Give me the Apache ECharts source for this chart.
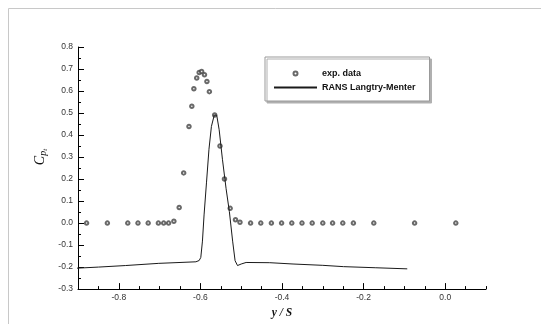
<!DOCTYPE html>
<html>
<head>
<meta charset="utf-8">
<script src="https://cdn.jsdelivr.net/npm/echarts@6/dist/echarts.min.js"></script>
<style>html,body{margin:0;padding:0;background:#fff}#c{width:541px;height:324px}</style>
</head>
<body>
<div id="c"></div>
<script>
// experimental data (y/S, Cp_t)
const expX = [-0.879,-0.828,-0.778,-0.753,-0.728,-0.703,-0.690,-0.678,-0.665,-0.652,-0.641,-0.628,-0.621,-0.616,-0.609,-0.603,-0.597,-0.590,-0.584,-0.578,-0.565,-0.552,-0.541,-0.527,-0.514,-0.503,-0.477,-0.452,-0.426,-0.401,-0.376,-0.351,-0.326,-0.300,-0.276,-0.251,-0.225,-0.175,-0.075,0.026];
const expY = [0.0,0.0,0.0,0.0,0.0,0.0,0.0,0.0,0.008,0.071,0.228,0.439,0.531,0.610,0.659,0.684,0.689,0.674,0.643,0.597,0.491,0.350,0.200,0.067,0.015,0.004,0.0,0.0,0.0,0.0,0.0,0.0,0.0,0.0,0.0,0.0,0.0,0.0,0.0,0.0];
// RANS Langtry-Menter curve
const ransX = [-0.904,-0.850,-0.784,-0.702,-0.650,-0.611,-0.603,-0.599,-0.595,-0.591,-0.585,-0.579,-0.573,-0.566,-0.560,-0.554,-0.546,-0.537,-0.529,-0.521,-0.515,-0.509,-0.500,-0.488,-0.430,-0.373,-0.300,-0.249,-0.170,-0.093];
const ransY = [-0.205,-0.200,-0.193,-0.183,-0.179,-0.176,-0.170,-0.156,-0.082,0.037,0.186,0.335,0.439,0.491,0.490,0.424,0.290,0.156,0.052,-0.082,-0.171,-0.193,-0.186,-0.179,-0.180,-0.186,-0.192,-0.198,-0.203,-0.208];
const xMajor = [-0.8,-0.6,-0.4,-0.2,0.0];

const chart = echarts.init(document.getElementById('c'), null, {renderer:'canvas'});
const lab = {fontFamily:'Liberation Sans, Arial, sans-serif', fontSize:8.5, color:'#333'};
chart.setOption({
  animation:false,
  backgroundColor:'#fff',
  grid:{left:78,right:55,top:47,bottom:31},
  graphic:[
    {type:'rect', shape:{x:8.5,y:8.5,width:600,height:400}, style:{fill:'none',stroke:'#c8c8c8',lineWidth:1}, silent:true},
    {type:'text', x:40, y:157, rotation:Math.PI/2,
      style:{text:'{c|C}{p|p}{t|t}', align:'center', verticalAlign:'middle',
        rich:{c:{fontFamily:'Liberation Serif, DejaVu Serif, serif',fontStyle:'italic',fontSize:14,fill:'#111'},
              p:{fontFamily:'Liberation Serif, DejaVu Serif, serif',fontStyle:'italic',fontSize:10,fill:'#111',padding:[6,0,0,0]},
              t:{fontFamily:'Liberation Serif, DejaVu Serif, serif',fontStyle:'italic',fontSize:7,fill:'#111',padding:[10,0,0,0]}}}}
  ],
  legend:{
    left:265, top:57, orient:'vertical',
    padding:[12,14,9,8], itemWidth:43, itemHeight:4, itemGap:5,
    backgroundColor:'#fff', borderColor:'#999', borderWidth:1,
    shadowColor:'#b0b0b0', shadowOffsetX:2, shadowOffsetY:2, shadowBlur:0,
    textStyle:{fontFamily:'Liberation Sans, Arial, sans-serif', fontSize:9, fontWeight:'bold', color:'#111'},
    data:[{name:'exp. data'},{name:'RANS Langtry-Menter', itemStyle:{color:'rgba(0,0,0,0)', borderColor:'rgba(0,0,0,0)', borderWidth:0}}]
  },
  xAxis:[{
    type:'value', min:-0.9, max:0.1, position:'bottom',
    name:'y / S', nameLocation:'middle', nameGap:17,
    nameTextStyle:{fontFamily:'Liberation Serif, DejaVu Serif, serif', fontStyle:'italic', fontWeight:'bold', fontSize:11.5, color:'#111'},
    axisLine:{show:true, onZero:false, lineStyle:{color:'#000', width:1}},
    axisTick:{show:true, inside:true, length:6, customValues:xMajor, lineStyle:{color:'#000'}},
    axisLabel:{show:true, customValues:xMajor, margin:4, ...lab, formatter:v=>v.toFixed(1)},
    splitLine:{show:false}
  },{
    type:'value', min:-0.9, max:0.1, interval:0.05, position:'bottom',
    axisLine:{show:false, onZero:false},
    axisTick:{show:true, inside:true, length:3, lineStyle:{color:'#000'}},
    axisLabel:{show:false}, splitLine:{show:false}
  }],
  yAxis:{
    type:'value', min:-0.3, max:0.8, interval:0.1,
    axisLine:{show:true, onZero:false, lineStyle:{color:'#000', width:1}},
    axisTick:{show:true, inside:true, length:6, lineStyle:{color:'#000'}},
    minorTick:{show:true, splitNumber:2, length:3, lineStyle:{color:'#000'}},
    axisLabel:{margin:5, ...lab, formatter:v=>v.toFixed(1)},
    splitLine:{show:false}
  },
  series:[
    {name:'exp. data', type:'scatter', symbol:'emptyCircle', symbolSize:3.5,
     itemStyle:{color:'#444', borderWidth:0.8}, data:expX.map((x,i)=>[x,expY[i]])},
    {name:'RANS Langtry-Menter', type:'line', showSymbol:false, symbol:'none',
     lineStyle:{color:'#1a1a1a', width:1}, itemStyle:{color:'#1a1a1a'}, data:ransX.map((x,i)=>[x,ransY[i]])}
  ]
});
</script>
</body>
</html>
